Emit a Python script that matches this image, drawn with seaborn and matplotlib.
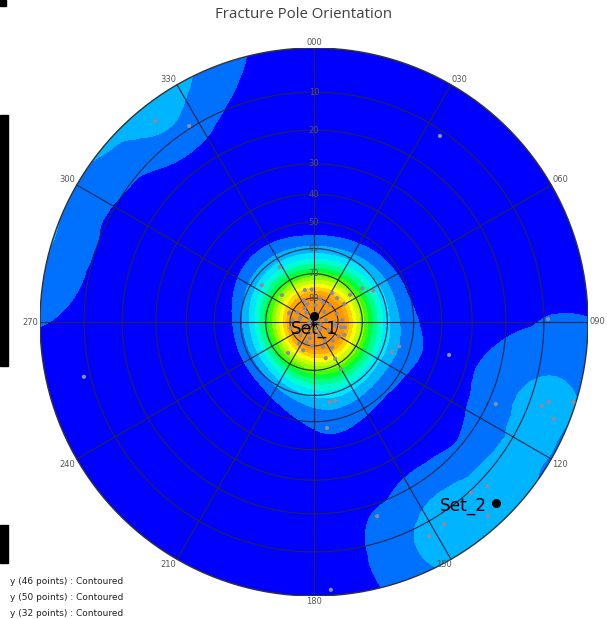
import numpy as np
import matplotlib
matplotlib.use("Agg")
import matplotlib.pyplot as plt
from matplotlib.patches import Circle, Rectangle
import seaborn as sns

# pole orientations (trend, plunge in degrees)
set1_trend = [10, 45, 80, 120, 160, 200, 240, 280, 320, 350,
              25, 70, 100, 135, 150, 185, 215, 255, 290, 300, 335,
              5, 60, 110, 175, 230, 265, 310,
              90, 140, 195, 250, 325,
              30, 120, 100, 145, 160, 275, 290,
              200, 225, 340, 15,
              328, 305, 310, 344, 356, 32, 53, 55, 62, 59, 44, 43, 86,
              101, 113, 220, 201, 162, 150, 150, 111, 106, 169, 165, 173]
set1_plunge = [86, 84, 85, 83, 84, 85, 83, 84, 85, 87,
               81, 80, 81, 79, 81, 80, 79, 80, 79, 82, 80,
               83, 88, 87, 87, 87, 88, 88,
               82, 86, 83, 85, 83,
               89, 78, 77, 77, 79, 81, 84,
               81, 82, 82, 80,
               63.4, 63.7, 72.6, 76.2, 76.4, 75.8, 71.3, 65.8, 62.5, 75.4, 76.2, 80.3, 78.3,
               78.5, 76.3, 73.2, 77.4, 74.2, 72.4, 67.6, 56.1, 54.2, 56.8, 56.8, 47.4]

set2_trend = [114.3, 110.2, 108.8, 112, 107.2, 133.5, 137.4, 138.1, 147.2, 151.7]
set2_plunge = [17.9, 6.9, 5.7, 3.3, 0.5, 7.9, 9.5, 2.9, 7.5, 6.9]

other_trend = [162, 176.4, 321.7, 327.5, 34.1, 89.3, 103.7, 256.6]
other_plunge = [16.6, 1.2, 3.9, 9.4, 11.3, 9, 36.2, 8.4]

set_names = ["Set_1", "Set_2"]
set_mean_trend = [0, 134.8]
set_mean_plunge = [87.5, 3.7]

legend_lines = ["y (46 points) : Contoured",
                "y (50 points) : Contoured",
                "y (32 points) : Contoured"]

azimuths = list(range(0, 360, 30))
dip_rings = [10, 20, 30, 40, 50, 60, 70, 80]

contour_colors = ["#0000ff", "#0070ff", "#00b4ff", "#00e6ff", "#00ffd0", "#00ff8c",
                  "#00ff3c", "#40ff00", "#90ff00", "#c8ff00", "#ffff00", "#ffd200",
                  "#ffaa00", "#ff9600"]


def project(trend, plunge):
    # equal-angle (stereographic) projection, north up, clockwise azimuth
    tr = np.radians(np.asarray(trend, dtype=float))
    r = np.tan(np.radians(90 - np.asarray(plunge, dtype=float)) / 2)
    return r * np.sin(tr), r * np.cos(tr)


def vectors(trend, plunge):
    tr = np.radians(np.asarray(trend, dtype=float))
    pl = np.radians(np.asarray(plunge, dtype=float))
    return np.stack([np.cos(pl) * np.sin(tr), np.cos(pl) * np.cos(tr), np.sin(pl)], axis=-1)


# grid on the projection plane -> directions on the sphere
g = np.linspace(-1.05, 1.05, 420)
X, Y = np.meshgrid(g, g)
rr = np.hypot(X, Y)
G = vectors(np.degrees(np.arctan2(X, Y)), 90 - np.degrees(2 * np.arctan(rr)))


def cosines(trend, plunge):
    return np.clip(np.abs(G @ vectors(trend, plunge).T), 0, 1)


def cone(trend, plunge, radius):
    ang = np.degrees(np.arccos(cosines(trend, plunge)))
    return np.clip(1 - ang / radius, 0, None).sum(axis=-1)


def fisher(trend, plunge, kappa):
    return np.exp(kappa * (cosines(trend, plunge) - 1)).sum(axis=-1)


rest_trend = set2_trend + other_trend
rest_plunge = set2_plunge + other_plunge
dens = (0.5 * cone(set1_trend, set1_plunge, 31.0)
        + 0.5 * fisher(set1_trend, set1_plunge, 22.0)
        + 1.41 * cone(rest_trend, rest_plunge, 26.0))

step = 2.6
levels = [0] + [step * i for i in range(1, 14)] + [dens.max() + 1]

sns.set_theme(style="white")
plt.rcParams['font.family'] = ['DejaVu Sans']

fig = plt.figure(figsize=(6.07, 6.19), dpi=100)
ax = fig.add_axes([40 / 607, 23 / 619, 548 / 607, 548 / 619])
ax.set_xlim(-1, 1)
ax.set_ylim(-1, 1)
ax.axis("off")

rim = Circle((0, 0), 1, transform=ax.transData, facecolor="none")
cs = ax.contourf(X, Y, dens, levels=levels, colors=contour_colors)
cs.set_clip_path(rim)

# grid: dip rings and spokes
ring_t = np.linspace(0, 360, 361)
for d in dip_rings:
    rx, ry = project(ring_t, np.full_like(ring_t, d))
    ax.plot(rx, ry, color="#26264a", lw=0.8)
for a in azimuths:
    sx, sy = project([a, a], [90, 0])
    ax.plot(sx, sy, color="#26264a", lw=0.8)
ox, oy = project(ring_t, np.zeros_like(ring_t))
ax.plot(ox, oy, color="#333333", lw=1.0)

for d in dip_rings:
    lx, ly = project(0, d)
    ax.text(lx, ly, str(d), ha="center", va="center", fontsize=6, color="#555566")

for a in azimuths:
    s, c = np.sin(np.radians(a)), np.cos(np.radians(a))
    ha = "left" if s > 0.1 else ("right" if s < -0.1 else "center")
    if a == 150:
        ha = "right"
    va = "bottom" if c > 0.1 else ("top" if c < -0.1 else "center")
    ax.text(s * 1.005, c * 1.005, f"{a:03d}", ha=ha, va=va, fontsize=6, color="#555555")

all_trend = set1_trend + rest_trend
all_plunge = set1_plunge + rest_plunge
px, py = project(all_trend, all_plunge)
sns.scatterplot(x=px, y=py, ax=ax, color="#8c8c9e", s=9, edgecolor="none", zorder=5)

mx, my = project(set_mean_trend, set_mean_plunge)
ax.scatter(mx, my, color="black", s=30, zorder=6)
ax.annotate(set_names[0], (mx[0], my[0]), xytext=(0, -9), textcoords="offset points",
            ha="center", va="center", fontsize=12.2, color="black", zorder=7)
ax.annotate(set_names[1], (mx[1], my[1]), xytext=(-6.5, -2.2), textcoords="offset points",
            ha="right", va="center", fontsize=12.2, color="black", zorder=7)

fig.text(0.5, 1 - 14 / 619, "Fracture Pole Orientation", ha="center", va="center",
         fontsize=10.8, color="#404040", family=["Open Sans", "DejaVu Sans"])

for i, line in enumerate(legend_lines):
    fig.text(10 / 607, 1 - (582 + 16 * i) / 619, line, ha="left", va="center",
             fontsize=6.5, color="#222222")

# clipped legend remnants at the left edge
for (y0, y1) in [(115, 366), (525, 563), (0, 6)]:
    w = 6 if y1 == 6 else 8
    fig.patches.append(Rectangle((0, 1 - y1 / 619), w / 607, (y1 - y0) / 619,
                                 transform=fig.transFigure, color="black"))

fig.savefig("out.png", dpi=100)
